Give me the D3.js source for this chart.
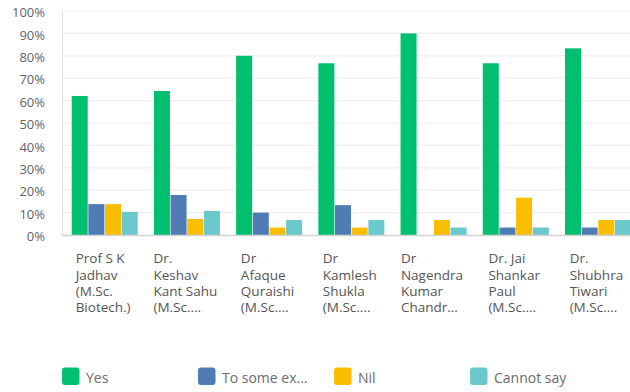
<!DOCTYPE html>
<html>
<head>
<meta charset="utf-8">
<script src="https://cdn.jsdelivr.net/npm/d3@7"></script>
<style>
  html, body { margin: 0; padding: 0; background: #fff; }
  svg { display: block; font-family: "Open Sans", "Noto Sans", sans-serif; }
</style>
</head>
<body>
<svg id="chart" width="630" height="392"></svg>
<script>
// Instructors (wrapped label lines as displayed under each group)
const categories = [
  ["Prof S K", "Jadhav", "(M.Sc.", "Biotech.)"],
  ["Dr.", "Keshav", "Kant Sahu", "(M.Sc...."],
  ["Dr", "Afaque", "Quraishi", "(M.Sc...."],
  ["Dr", "Kamlesh", "Shukla", "(M.Sc...."],
  ["Dr", "Nagendra", "Kumar", "Chandr..."],
  ["Dr. Jai", "Shankar", "Paul", "(M.Sc...."],
  ["Dr.", "Shubhra", "Tiwari", "(M.Sc...."]
];
const seriesNames = ["Yes", "To some ex...", "Nil", "Cannot say"];
const seriesColors = ["#00bf6f", "#507cb6", "#f9be00", "#6bc8cd"];

// Share of responses (%) per instructor, one array per answer
const yesValues      = [62.07, 64.29, 80.00, 76.67, 90.00, 76.67, 83.33];
const someValues     = [13.79, 17.86, 10.00, 13.33, 0.00, 3.33, 3.33];
const nilValues      = [13.79, 7.14, 3.33, 3.33, 6.67, 16.67, 6.67];
const cannotValues   = [10.34, 10.71, 6.67, 6.67, 3.33, 3.33, 6.67];
const seriesValues = [yesValues, someValues, nilValues, cannotValues];

const yTicks = [0, 10, 20, 30, 40, 50, 60, 70, 80, 90, 100];

const svg = d3.select("#chart");
const catIdx = d3.range(categories.length);

const y = d3.scaleLinear().domain([0, 100]).range([235, 11]);
const x0 = d3.scaleBand().domain(catIdx).range([62, 637.5]);
const groupWidth = 66, groupInset = 9.7;
const x1 = d3.scaleBand().domain(d3.range(seriesNames.length)).range([0, groupWidth]).paddingInner(0.04);

// Gridlines
svg.append("g")
  .selectAll("line")
  .data(yTicks.filter(t => t > 0))
  .join("line")
  .attr("x1", 62).attr("x2", 630)
  .attr("y1", d => y(d)).attr("y2", d => y(d))
  .attr("stroke", "#efefef").attr("stroke-width", 1.2);

// Y axis labels
const yAxis = d3.axisLeft(y).tickValues(yTicks).tickFormat(d => d + "%").tickSize(0).tickPadding(0);
const yg = svg.append("g").attr("transform", "translate(45,1.5)").call(yAxis);
yg.select(".domain").remove();
yg.selectAll("text")
  .attr("fill", "#5f6368")
  .style("font-size", "13px")
  .style("font-family", "'Open Sans', sans-serif");

// Left axis line
svg.append("line")
  .attr("x1", 62.5).attr("x2", 62.5).attr("y1", y(100)).attr("y2", y(0))
  .attr("stroke", "#e0e0e0").attr("stroke-width", 1);

// Bars
const groups = svg.append("g").selectAll("g")
  .data(catIdx)
  .join("g")
  .attr("transform", i => `translate(${x0(i) + groupInset},0)`);

groups.selectAll("rect")
  .data(i => seriesValues.map((vals, s) => ({ s, v: vals[i] })))
  .join("rect")
  .attr("x", d => x1(d.s))
  .attr("width", x1.bandwidth())
  .attr("y", d => y(d.v))
  .attr("height", d => y(0) - y(d.v))
  .attr("fill", d => seriesColors[d.s]);

// Baseline
svg.append("line")
  .attr("x1", 62).attr("x2", 630).attr("y1", y(0) + 0.5).attr("y2", y(0) + 0.5)
  .attr("stroke", "#d4d4d4").attr("stroke-width", 1.5);

// Category labels: block centred on the band, each line left-aligned in it
catIdx.forEach(i => {
  const g = svg.append("g");
  const lines = g.selectAll("text")
    .data(categories[i])
    .join("text")
    .attr("x", 0)
    .attr("y", (d, k) => 263.3 + k * 16.2)
    .attr("fill", "#555")
    .style("font-size", "13.5px")
    .text(d => d);
  const w = d3.max(lines.nodes(), n => n.getComputedTextLength());
  const cx = x0(i) + x0.bandwidth() / 2;
  g.attr("transform", `translate(${cx - w / 2},0)`);
});

// Legend
const lx = d3.scalePoint().domain(d3.range(seriesNames.length)).range([62, 470]);
const leg = svg.append("g").selectAll("g")
  .data(d3.range(seriesNames.length))
  .join("g")
  .attr("transform", s => `translate(${lx(s)},367.5)`);
leg.append("rect")
  .attr("width", 17.5).attr("height", 17.5).attr("rx", 3).attr("ry", 3)
  .attr("fill", s => seriesColors[s]);
leg.append("text")
  .attr("x", 24).attr("y", 15.5)
  .attr("fill", "#6b6b6b")
  .style("font-size", "14px")
  .text(s => seriesNames[s]);
</script>
</body>
</html>
